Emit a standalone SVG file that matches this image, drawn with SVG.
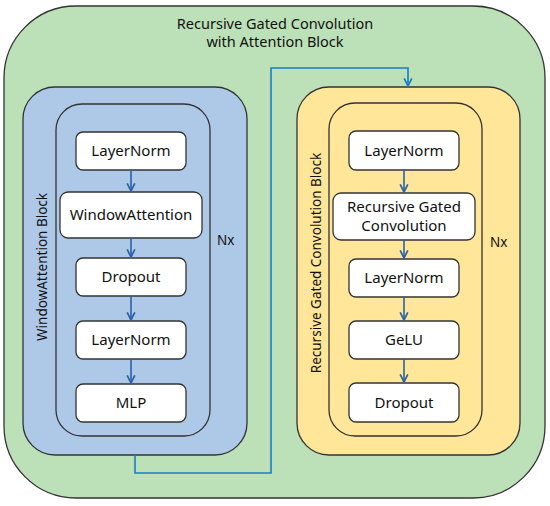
<svg xmlns="http://www.w3.org/2000/svg" width="550" height="506" viewBox="0 0 550 506">
<defs>
<style>
text{font-family:"Noto Sans","Open Sans",sans-serif;fill:#111;}
.box{fill:#fff;stroke:#333;stroke-width:1.3;}
.lbl{font-size:15px;text-anchor:middle;}
.ttl{font-size:14.5px;text-anchor:middle;}
.frame{stroke:#333;stroke-width:1.3;}
.arr{stroke:#2a62a8;stroke-width:1.6;fill:none;marker-end:url(#ah);}
</style>
<marker id="ah" viewBox="0 0 10 10" refX="9" refY="5" markerWidth="6" markerHeight="6" orient="auto"><path d="M1,1 L9,5 L1,9" fill="none" stroke="#2a62a8" stroke-width="1.8"/></marker>
<marker id="ah2" viewBox="0 0 10 10" refX="9" refY="5" markerWidth="6" markerHeight="6" orient="auto"><path d="M1,1 L9,5 L1,9" fill="none" stroke="#1a7ec4" stroke-width="1.8"/></marker>
</defs>
<g id="outer">
<rect x="4" y="6" width="541" height="492" rx="72" class="frame" fill="#bce0b7"/>
<text class="ttl" x="275" y="29">Recursive Gated Convolution</text>
<text class="ttl" x="275" y="47">with Attention Block</text>
</g>
<g id="window-block">
<rect x="23" y="87" width="224" height="368" rx="32" class="frame" fill="#aec8e8"/>
<rect x="56" y="104" width="154" height="332" rx="26" class="frame" fill="#aec8e8"/>
<text transform="translate(47,267) rotate(-90)" style="font-size:13.5px;text-anchor:middle">WindowAttention Block</text>
<text x="217" y="245" style="font-size:13.5px">Nx</text>
</g>
<g id="w-layernorm1"><rect class="box" x="76" y="132" width="110" height="38" rx="7"/><text class="lbl" x="131" y="156">LayerNorm</text></g>
<g id="w-windowattention"><rect class="box" x="60" y="192" width="142" height="46" rx="8"/><text class="lbl" x="131" y="220">WindowAttention</text></g>
<g id="w-dropout"><rect class="box" x="76" y="258" width="110" height="38" rx="7"/><text class="lbl" x="131" y="282">Dropout</text></g>
<g id="w-layernorm2"><rect class="box" x="76" y="321" width="110" height="38" rx="7"/><text class="lbl" x="131" y="345">LayerNorm</text></g>
<g id="w-mlp"><rect class="box" x="76" y="384" width="110" height="38" rx="7"/><text class="lbl" x="131" y="408">MLP</text></g>
<g id="conv-block">
<rect x="297" y="87" width="223" height="368" rx="32" class="frame" fill="#ffe699"/>
<rect x="329" y="103" width="153" height="333" rx="26" class="frame" fill="#ffe699"/>
<text transform="translate(321,263) rotate(-90)" style="font-size:13.5px;text-anchor:middle">Recursive Gated Convolution Block</text>
<text x="490" y="247" style="font-size:13.5px">Nx</text>
</g>
<g id="c-layernorm1"><rect class="box" x="349" y="131" width="110" height="39" rx="7"/><text class="lbl" x="404" y="156">LayerNorm</text></g>
<g id="c-rgconv"><rect class="box" x="333" y="193" width="142" height="47" rx="8"/><text class="lbl" x="404" y="212">Recursive Gated</text><text class="lbl" x="404" y="231">Convolution</text></g>
<g id="c-layernorm2"><rect class="box" x="349" y="259" width="110" height="38" rx="7"/><text class="lbl" x="404" y="283">LayerNorm</text></g>
<g id="c-gelu"><rect class="box" x="349" y="321" width="110" height="38" rx="7"/><text class="lbl" x="404" y="345">GeLU</text></g>
<g id="c-dropout"><rect class="box" x="349" y="383" width="110" height="39" rx="7"/><text class="lbl" x="404" y="408">Dropout</text></g>
<g id="connectors">
<line class="arr" x1="131" y1="170" x2="131" y2="191"/>
<line class="arr" x1="131" y1="238" x2="131" y2="257"/>
<line class="arr" x1="131" y1="296" x2="131" y2="320"/>
<line class="arr" x1="131" y1="359" x2="131" y2="383"/>
<line class="arr" x1="404" y1="170" x2="404" y2="192"/>
<line class="arr" x1="404" y1="240" x2="404" y2="258"/>
<line class="arr" x1="404" y1="297" x2="404" y2="320"/>
<line class="arr" x1="404" y1="359" x2="404" y2="382"/>
<path d="M135,455 V473 H271 V68 H408 V86" fill="none" stroke="#1a7ec4" stroke-width="1.6" marker-end="url(#ah2)"/>
</g>
</svg>
